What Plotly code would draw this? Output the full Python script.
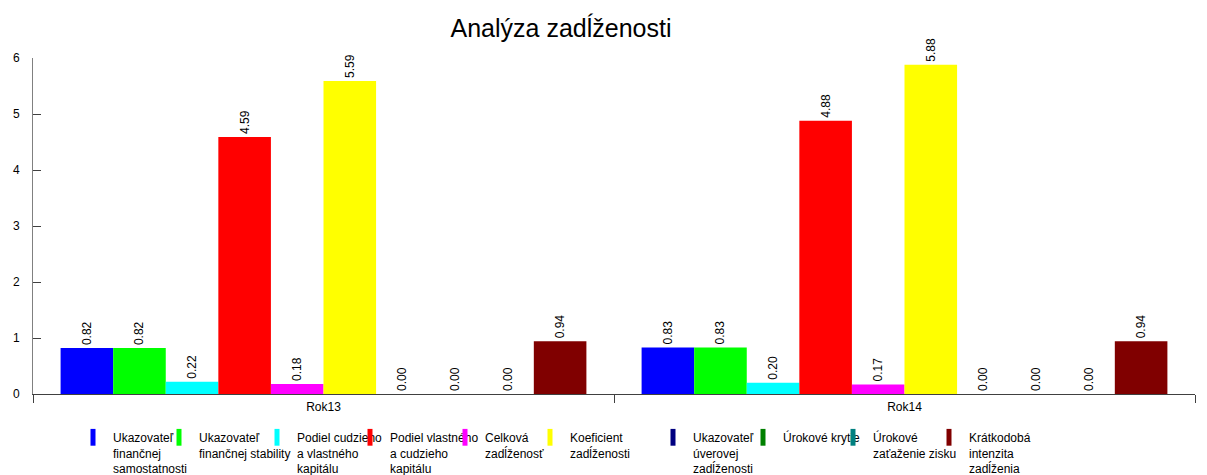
import plotly.graph_objects as go

categories = ["Rok13", "Rok14"]
series_names = [
    "Ukazovateľ<br>finančnej<br>samostatnosti",
    "Ukazovateľ<br>finančnej stability",
    "Podiel cudzieho<br>a vlastného<br>kapitálu",
    "Podiel vlastného<br>a cudzieho<br>kapitálu",
    "Celková<br>zadĺženosť",
    "Koeficient<br>zadĺženosti",
    "Ukazovateľ<br>úverovej<br>zadĺženosti",
    "Úrokové krytie",
    "Úrokové<br>zaťaženie zisku",
    "Krátkodobá<br>intenzita<br>zadĺženia",
]
rok13 = [0.82, 0.82, 0.22, 4.59, 0.18, 5.59, 0.00, 0.00, 0.00, 0.94]
rok14 = [0.83, 0.83, 0.20, 4.88, 0.17, 5.88, 0.00, 0.00, 0.00, 0.94]
colors = ["#0000FF", "#00FF00", "#00FFFF", "#FF0000", "#FF00FF",
          "#FFFF00", "#000080", "#008000", "#008080", "#800000"]
# left edge (screen px) of each legend entry's text in the reference
legend_text_x = [109, 195, 293, 386, 481, 566, 689, 779, 869, 965]

# page body has an 8px default margin, so the figure is shifted by (8, 8)
OFF = 8
W, H = 1207 - OFF, 475 - OFF
ML, MT, PW, PH = 33 - OFF, 58 - OFF, 1162, 336
MR = W - ML - PW
MB = H - MT - PH

fig = go.Figure()
# bars (legend entries are drawn by the proxy traces below)
for i, name in enumerate(series_names):
    fig.add_trace(go.Bar(
        x=categories, y=[rok13[i], rok14[i]], name=name, showlegend=False,
        legendgroup=f"g{i}",
        marker=dict(color=colors[i], line=dict(width=0)),
        texttemplate="%{y:.2f}", textposition="outside", textangle=-90,
        textfont=dict(size=12, color="#000000", family="Liberation Sans, Arial"),
        constraintext="none", cliponaxis=False,
    ))

legend_layouts = {}
for i, name in enumerate(series_names):
    key = "legend" if i == 0 else f"legend{i + 1}"
    fig.add_trace(go.Scatter(
        x=[None], y=[None], mode="markers", name=name, legend=key,
        legendgroup=f"g{i}", showlegend=True, hoverinfo="skip",
        marker=dict(symbol="line-ns", size=12, color=colors[i],
                    line=dict(color=colors[i], width=5)),
    ))
    lx = (legend_text_x[i] - 36 - OFF - ML) / PW
    legend_layouts[key] = dict(
        orientation="v", x=lx, xanchor="left", y=-29 / PH, yanchor="top",
        valign="top", font=dict(size=12, color="#000000"),
        bgcolor="rgba(0,0,0,0)", borderwidth=0,
    )

fig.update_layout(
    width=W, height=H,
    paper_bgcolor="white", plot_bgcolor="white",
    font=dict(family="Liberation Sans, Arial", size=12, color="#000000"),
    title=dict(text="Analýza zadĺženosti", x=(561 - OFF) / W, xanchor="center",
               y=1 - (28 - OFF) / H, yanchor="middle",
               font=dict(size=25, color="#000000")),
    margin=dict(l=ML, r=MR, t=MT, b=MB, autoexpand=False),
    barmode="group", bargap=0.095, bargroupgap=0,
    showlegend=True,
    xaxis=dict(showline=True, linecolor="#404040", linewidth=1, ticks="outside",
               tickson="boundaries", ticklen=8, tickcolor="#404040",
               showgrid=False, zeroline=False, tickfont=dict(size=12),
               ticklabelstandoff=2),
    yaxis=dict(range=[0, 6], dtick=1, showline=True, linecolor="#808080", linewidth=1,
               ticks="inside", ticklen=8, tickcolor="#404040", showgrid=False,
               zeroline=False, tickfont=dict(size=12), ticklabelstandoff=10),
    **legend_layouts,
)

fig.write_html("out.html")
